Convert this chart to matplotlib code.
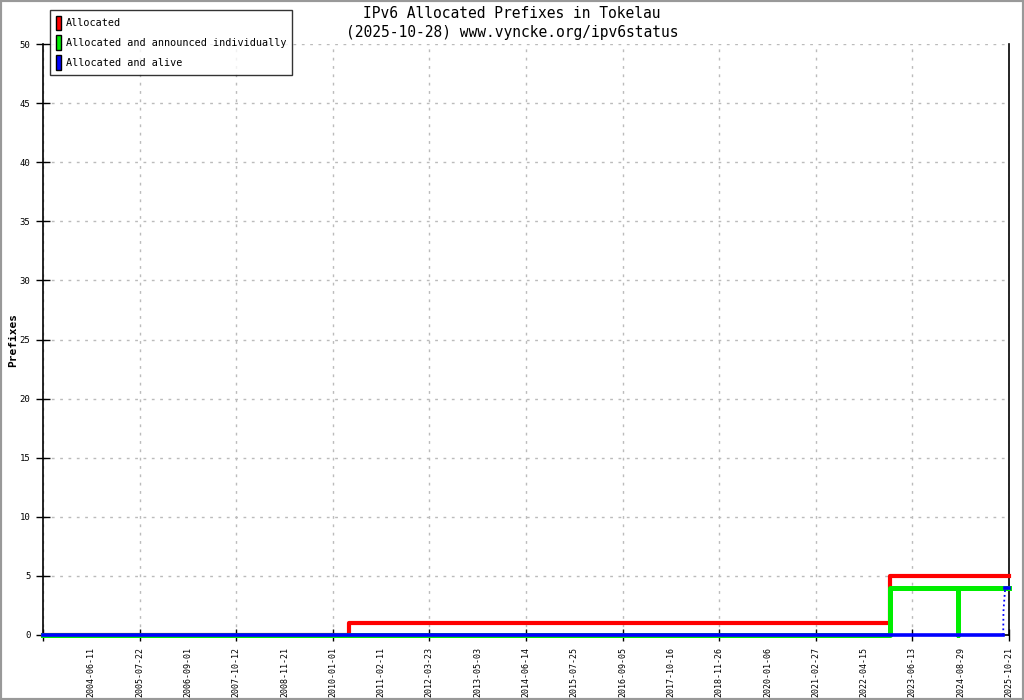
import numpy as np
import pandas as pd
import matplotlib
matplotlib.use("Agg")
import matplotlib.pyplot as plt
from matplotlib.patches import Patch, Rectangle

# x labels (evenly spaced on the chart, one per slot)
axis_start = "2003-05-01"
tick_labels = ["2004-06-11", "2005-07-22", "2006-09-01", "2007-10-12", "2008-11-21",
               "2010-01-01", "2011-02-11", "2012-03-23", "2013-05-03", "2014-06-14",
               "2015-07-25", "2016-09-05", "2017-10-16", "2018-11-26", "2020-01-06",
               "2021-02-27", "2022-04-15", "2023-06-13", "2024-08-29", "2025-10-21"]

# series as change points (date, value)
red_dates = ["2003-05-01", "2010-05-20", "2022-11-30", "2025-10-21"]
red_vals = [0, 1, 5, 5]
green_dates = ["2003-05-01", "2022-11-30", "2024-08-02", "2024-08-03", "2025-10-21"]
green_vals = [0, 4, 0, 4, 4]
blue_dates = ["2003-05-01", "2025-09-01", "2025-09-03", "2025-09-18", "2025-10-21"]
blue_vals = [0, 0, 2, 4, 4]

font = "DejaVu Sans Mono"

label_days = pd.to_datetime([axis_start] + tick_labels).map(pd.Timestamp.toordinal).values
slots = np.arange(len(label_days))
all_labels = [""] + tick_labels


def pos(dates):
    d = pd.to_datetime(dates).map(pd.Timestamp.toordinal).values
    return np.interp(d, label_days, slots)


fig = plt.figure(figsize=(10.24, 7.0), dpi=100)
ax = fig.add_axes([43 / 1024, 65 / 700, 966 / 1024, 591 / 700])

ax.step(pos(red_dates), red_vals, where="post", color="#ff0000", lw=3, clip_on=False, zorder=3)
ax.step(pos(green_dates), green_vals, where="post", color="#00ee00", lw=3.6, clip_on=False, zorder=4)
bx = pos(blue_dates)
ax.plot(bx[:2], blue_vals[:2], color="#0000ff", lw=2.6, clip_on=False, zorder=5)
ax.plot(bx[1:4], blue_vals[1:4], color="#0000ff", lw=1.3, ls=":", clip_on=False, zorder=5)
ax.plot(bx[3:], blue_vals[3:], color="#0000ff", lw=2.6, clip_on=False, zorder=5)

ax.set_xlim(0, len(tick_labels))
ax.set_ylim(0, 50)

# major: every other slot, with tick mark and grid; minor: the slots in between, label only
ax.set_xticks(slots[::2])
ax.set_xticklabels(all_labels[::2], rotation=90, fontsize=6, family=font)
ax.set_xticks(slots[1::2], minor=True)
ax.set_xticklabels(all_labels[1::2], minor=True, rotation=90, fontsize=6, family=font)
ax.tick_params(axis="x", which="major", direction="inout", length=8, width=1, pad=4.5)
ax.tick_params(axis="x", which="minor", length=0, pad=8.5)
ax.xaxis.grid(True, which="major", color="#bbbbbb", ls=(0, (2, 4)), lw=1)

ax.set_yticks(np.arange(0, 51, 5))
ax.set_yticklabels([str(v) for v in range(0, 51, 5)], fontsize=6.5, family=font)
ax.tick_params(axis="y", direction="inout", length=10, width=1, pad=4)
ax.yaxis.grid(True, color="#bbbbbb", ls=(0, (2, 4)), lw=1)

ax.spines["top"].set_visible(False)
for s in ["left", "right", "bottom"]:
    ax.spines[s].set_color("black")
    ax.spines[s].set_linewidth(1.2)

fig.text(13 / 1024, 1 - 340 / 700, "Prefixes", family=font, fontsize=8, fontweight="bold",
         rotation=90, ha="center", va="center")

fig.text(0.5, 1 - 13 / 700, "IPv6 Allocated Prefixes in Tokelau", ha="center", va="center",
         family=font, fontsize=10.5)
fig.text(0.5, 1 - 32 / 700, "(2025-10-28) www.vyncke.org/ipv6status", ha="center", va="center",
         family=font, fontsize=10.5)

handles = [Patch(facecolor="#ff0000", edgecolor="black"),
           Patch(facecolor="#00ee00", edgecolor="black"),
           Patch(facecolor="#0000ff", edgecolor="black")]
leg = fig.legend(handles, ["Allocated", "Allocated and announced individually", "Allocated and alive"],
                 loc="upper left", bbox_to_anchor=(50 / 1024, 1 - 10 / 700),
                 prop={"family": font, "size": 7.3}, frameon=True, fancybox=False,
                 handlelength=0.55, handleheight=1.8, handletextpad=0.5, labelspacing=0.55,
                 borderpad=0.55, borderaxespad=0)
leg.get_frame().set_edgecolor("black")
leg.get_frame().set_linewidth(1)

fig.patches.append(Rectangle((0, 0), 1, 1, transform=fig.transFigure, fill=False,
                             edgecolor="#999999", lw=3))

fig.savefig("out.png", dpi=100)
